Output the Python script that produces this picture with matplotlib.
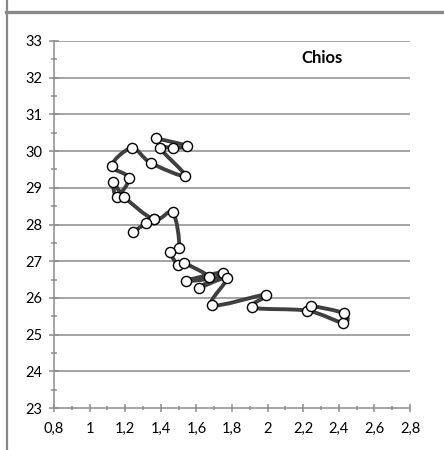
import numpy as np
import matplotlib
matplotlib.use("Agg")
import matplotlib.pyplot as plt
from matplotlib.path import Path
from matplotlib.patches import PathPatch
from matplotlib.lines import Line2D
from matplotlib.ticker import MultipleLocator, FixedLocator

# ---- data ----
title = "Chios"
# main trajectory (in drawing order)
x_vals = [1.371, 1.549, 1.467, 1.396, 1.536, 1.343, 1.237, 1.124, 1.221, 1.152,
          1.133, 1.193, 1.362, 1.467, 1.504, 1.452, 1.498, 1.530, 1.672, 1.542,
          1.748, 1.616, 1.770, 1.688, 1.993, 1.915, 2.224, 2.424, 2.429, 2.242]
y_vals = [30.35, 30.14, 30.08, 30.08, 29.33, 29.68, 30.08, 29.60, 29.27, 28.76,
          29.17, 28.76, 28.14, 28.33, 27.36, 27.25, 26.90, 26.95, 26.56, 26.47,
          26.69, 26.28, 26.53, 25.80, 26.09, 25.74, 25.65, 25.32, 25.58, 25.79]
# short branch joining the main trajectory
branch_x = [1.362, 1.317, 1.246]
branch_y = [28.14, 28.03, 27.80]

x_ticks = [0.8, 1.0, 1.2, 1.4, 1.6, 1.8, 2.0, 2.2, 2.4, 2.6, 2.8]
x_tick_labels = ["0,8", "1", "1,2", "1,4", "1,6", "1,8", "2", "2,2", "2,4", "2,6", "2,8"]
y_ticks = [23, 24, 25, 26, 27, 28, 29, 30, 31, 32, 33]

plt.rcParams['font.family'] = ['Lato', 'DejaVu Sans']

W, H = 444, 450
fig = plt.figure(figsize=(W / 100, H / 100), dpi=100)
fig.patch.set_facecolor("white")

# outer frame lines (gray)
fig.add_artist(Line2D([6.5 / W, 6.5 / W], [0, 1], color="#8a8a8a", lw=1.6,
                      transform=fig.transFigure))
fig.add_artist(Line2D([6 / W, 1], [1 - 11.5 / H, 1 - 11.5 / H], color="#8a8a8a", lw=2.4,
                      transform=fig.transFigure))

ax = fig.add_axes([54 / W, 1 - 408 / H, (410 - 54) / W, (408 - 41) / H])
ax.set_xlim(0.8, 2.8)
ax.set_ylim(23, 33)

grid_col = "#8c8c8c"
for s in ["top", "right"]:
    ax.spines[s].set_visible(False)
for s in ["left", "bottom"]:
    ax.spines[s].set_color(grid_col)
    ax.spines[s].set_linewidth(1.1)

ax.xaxis.set_major_locator(FixedLocator(x_ticks))
ax.set_xticklabels(x_tick_labels)
ax.xaxis.set_minor_locator(MultipleLocator(0.1))
ax.yaxis.set_major_locator(FixedLocator(y_ticks))
ax.set_yticklabels([str(v) for v in y_ticks])
ax.yaxis.set_minor_locator(MultipleLocator(0.5))

ax.tick_params(axis="y", which="major", direction="inout", length=7, width=1.1,
               color=grid_col, pad=5, labelsize=10.5, labelcolor="black")
ax.tick_params(axis="y", which="minor", direction="inout", length=4.5, width=1.1,
               color=grid_col)
ax.tick_params(axis="x", which="major", direction="inout", length=6, width=1.1,
               color=grid_col, pad=7, labelsize=10.5, labelcolor="black")
ax.tick_params(axis="x", which="minor", direction="inout", length=3.5, width=1.1,
               color=grid_col)

for yv in y_ticks[1:]:
    ax.axhline(yv, color=grid_col, lw=1.1, zorder=1)


def smooth_path(xs, ys):
    pts = np.column_stack([xs, ys])
    n = len(pts)
    verts = [pts[0]]
    codes = [Path.MOVETO]
    for i in range(n - 1):
        p0 = pts[i - 1] if i > 0 else pts[i]
        p1 = pts[i]
        p2 = pts[i + 1]
        p3 = pts[i + 2] if i + 2 < n else pts[i + 1]
        c1 = p1 + (p2 - p0) / 6.0
        c2 = p2 - (p3 - p1) / 6.0
        verts += [c1, c2, p2]
        codes += [Path.CURVE4] * 3
    return Path(verts, codes)


line_col = "#404040"
for xs, ys in [(x_vals, y_vals), (branch_x, branch_y)]:
    patch = PathPatch(smooth_path(xs, ys), facecolor="none", edgecolor=line_col,
                      lw=2.8, transform=ax.transData, zorder=3, capstyle="round",
                      joinstyle="round")
    ax.add_patch(patch)

ax.plot(x_vals, y_vals, linestyle="none", marker="o", markersize=7.3,
        markerfacecolor="white", markeredgecolor="black", markeredgewidth=1.0, zorder=4)
ax.plot(branch_x, branch_y, linestyle="none", marker="o", markersize=7.3,
        markerfacecolor="white", markeredgecolor="black", markeredgewidth=1.0, zorder=4)

ax.text(0.753, 0.955, title, transform=ax.transAxes, ha="center", va="center",
        fontsize=12, fontweight="bold")

fig.savefig("out.png", dpi=100, facecolor="white")
